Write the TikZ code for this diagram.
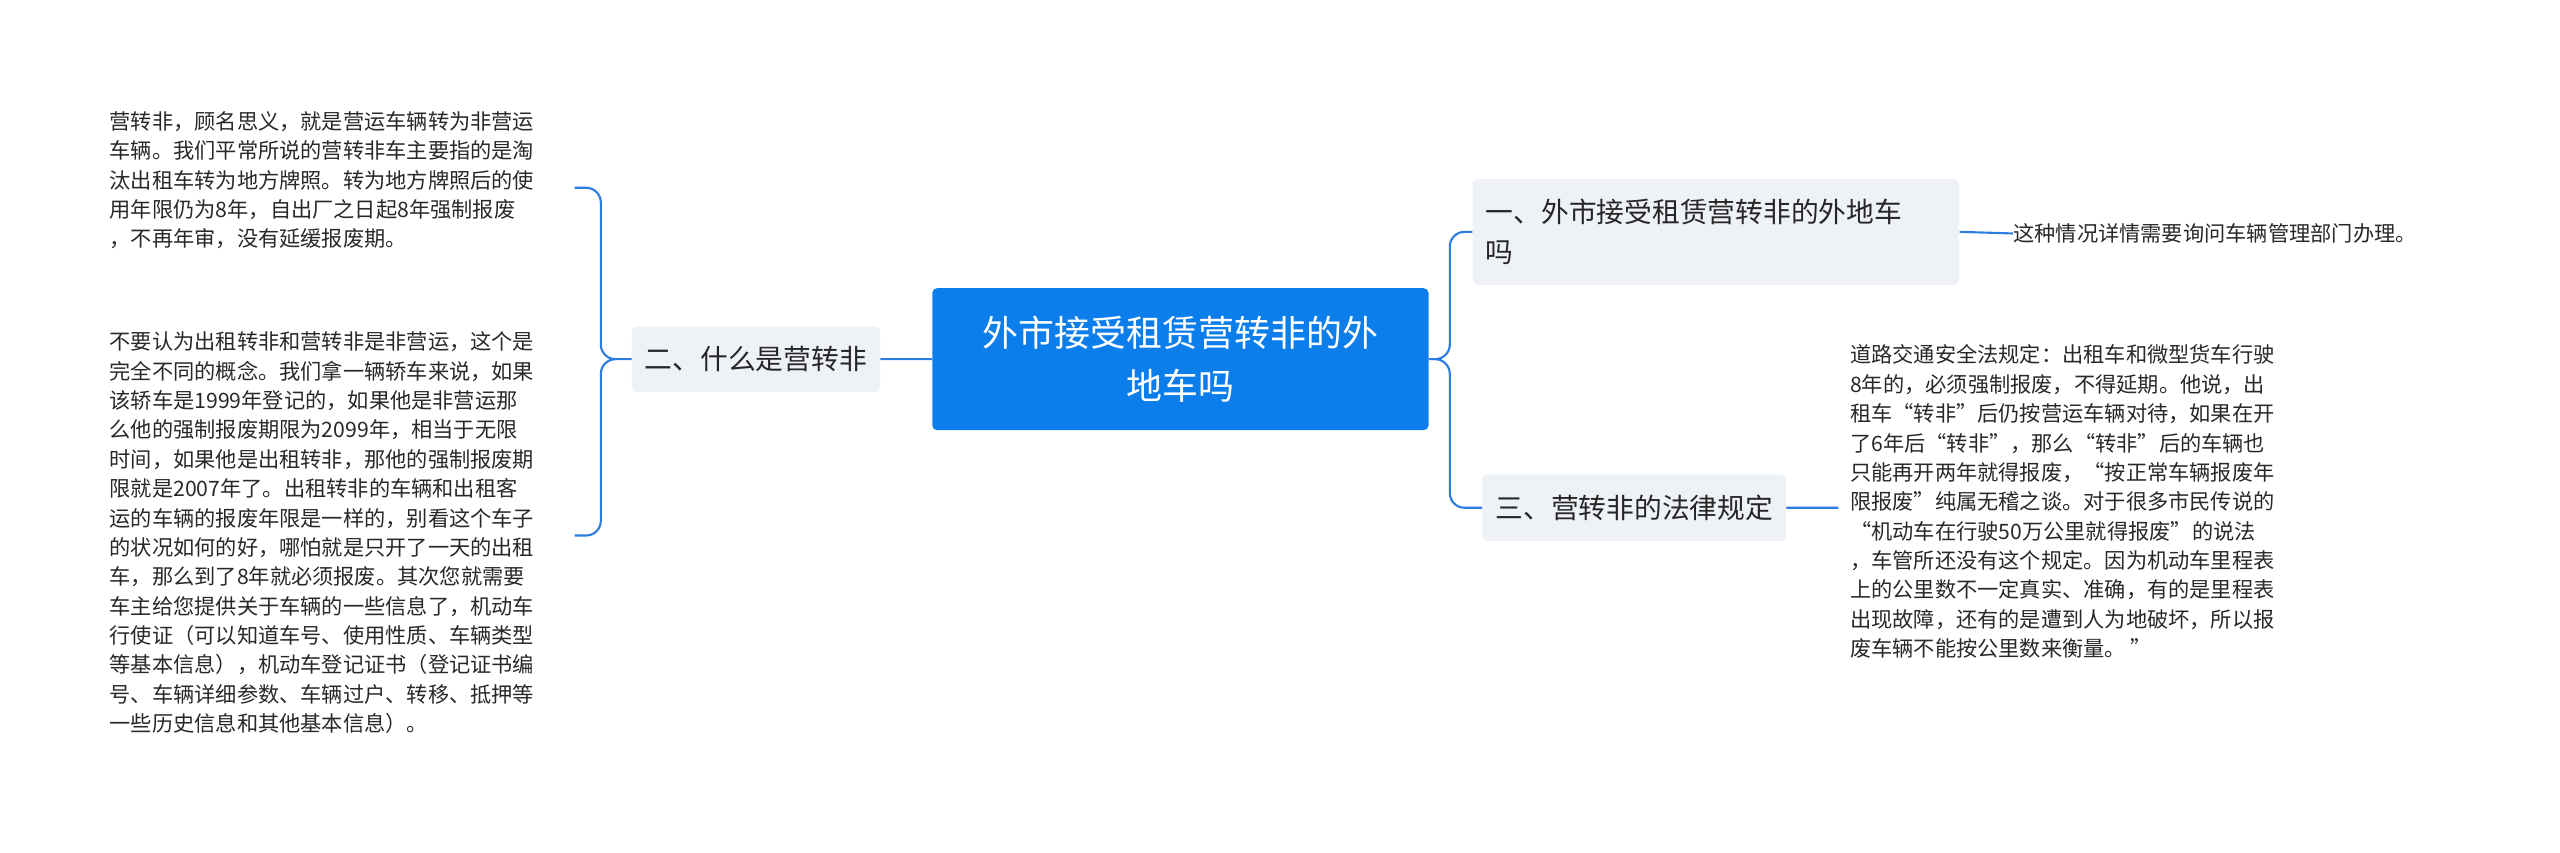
\documentclass[tikz,border=0pt]{standalone}
\usepackage{fontspec}
\setmainfont{Noto Sans CJK SC}
\usetikzlibrary{positioning}
\definecolor{mainblue}{RGB}{12,126,236}
\definecolor{linkblue}{RGB}{43,125,224}
\definecolor{topicgray}{RGB}{238,241,245}
\definecolor{leaftext}{RGB}{40,40,40}
\begin{document}
\begin{tikzpicture}[x=1pt,y=-1pt,
	central node/.style={fill=mainblue,text=white,rounded corners=3pt,align=center,
		minimum width=304pt,minimum height=87pt,font=\fontsize{22}{32}\selectfont},
	topic node/.style={fill=topicgray,text=black!85,rounded corners=3pt,align=left,
		inner xsep=8pt,font=\fontsize{17}{25}\selectfont},
	leaf node/.style={text=leaftext,align=left,inner sep=0pt,anchor=north west,
		font=\fontsize{13}{18}\selectfont},
	link/.style={draw=linkblue,line width=1.3pt,rounded corners=9pt}]

	\useasboundingbox (0,0) rectangle (1568,522);

	\node[central node] (root) at (723,220) {外市接受租赁营转非的外\\地车吗};
	\node[topic node, minimum height=40pt] (what) at (463,220) {二、什么是营转非};
	\node[topic node, minimum height=65pt, text width=282pt] (q1) at (1051,142) {一、外市接受租赁营转非的外地车\\吗};
	\node[topic node, minimum height=41pt] (law) at (1001,311) {三、营转非的法律规定};

	\node[leaf node] (l1) at (67,68) {营转非，顾名思义，就是营运车辆转为非营运\\车辆。我们平常所说的营转非车主要指的是淘\\汰出租车转为地方牌照。转为地方牌照后的使\\用年限仍为8年，自出厂之日起8年强制报废\\，不再年审，没有延缓报废期。};
	\node[leaf node] (l2) at (67,203) {不要认为出租转非和营转非是非营运，这个是\\完全不同的概念。我们拿一辆轿车来说，如果\\该轿车是1999年登记的，如果他是非营运那\\么他的强制报废期限为2099年，相当于无限\\时间，如果他是出租转非，那他的强制报废期\\限就是2007年了。出租转非的车辆和出租客\\运的车辆的报废年限是一样的，别看这个车子\\的状况如何的好，哪怕就是只开了一天的出租\\车，那么到了8年就必须报废。其次您就需要\\车主给您提供关于车辆的一些信息了，机动车\\行使证（可以知道车号、使用性质、车辆类型\\等基本信息），机动车登记证书（登记证书编\\号、车辆详细参数、车辆过户、转移、抵押等\\一些历史信息和其他基本信息）。};
	\node[leaf node, anchor=west] (r1) at (1233,143) {这种情况详情需要询问车辆管理部门办理。};
	\node[leaf node] (r2) at (1133,211) {道路交通安全法规定：出租车和微型货车行驶\\8年的，必须强制报废，不得延期。他说，出\\租车“转非”后仍按营运车辆对待，如果在开\\了6年后“转非”，那么“转非”后的车辆也\\只能再开两年就得报废，“按正常车辆报废年\\限报废”纯属无稽之谈。对于很多市民传说的\\“机动车在行驶50万公里就得报废”的说法\\，车管所还没有这个规定。因为机动车里程表\\上的公里数不一定真实、准确，有的是里程表\\出现故障，还有的是遭到人为地破坏，所以报\\废车辆不能按公里数来衡量。 ”};

	\coordinate (l1end) at (352,115);
	\coordinate (l2end) at (352,328);

	\path[link]
	(root.west) -- (what.east)
	(what.west) -- (368,220) |- (l1end)
	(what.west) -- (368,220) |- (l2end)
	(root.east) -- (888,220) |- (q1.west)
	(root.east) -- (888,220) |- (law.west)
	(q1.east) -- (r1.west)
	(law.east) -- (1126,311);
\end{tikzpicture}
\end{document}
